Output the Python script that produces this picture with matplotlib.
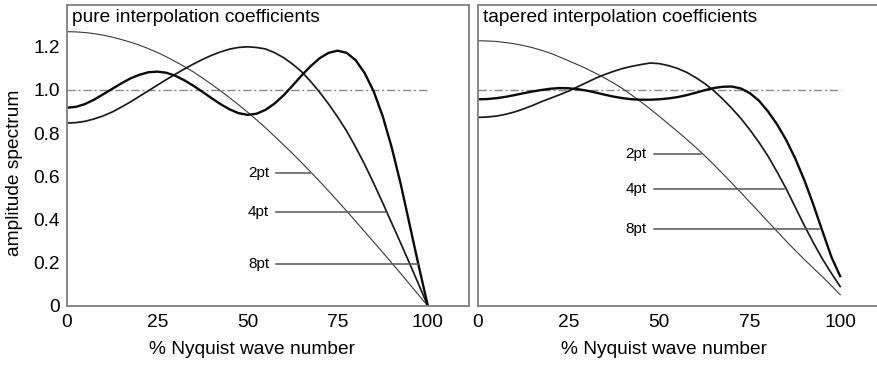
import numpy as np
import matplotlib.pyplot as plt

plt.rcParams["font.family"] = ["Liberation Sans", "DejaVu Sans"]

# wave number in % of Nyquist
wavenum = np.arange(0, 100.1, 2.5)

# pure interpolation coefficients
pure_2pt = [1.270, 1.269, 1.266, 1.261, 1.254, 1.245, 1.234, 1.222, 1.208, 1.192,
            1.174, 1.154, 1.132, 1.109, 1.084, 1.056, 1.027, 0.997, 0.965, 0.932,
            0.898, 0.862, 0.825, 0.786, 0.746, 0.706, 0.664, 0.621, 0.577, 0.532,
            0.486, 0.440, 0.392, 0.344, 0.296, 0.248, 0.199, 0.150, 0.100, 0.050, 0.0]
pure_4pt = [0.847, 0.849, 0.855, 0.866, 0.880, 0.898, 0.920, 0.944, 0.970, 0.996,
            1.022, 1.048, 1.073, 1.097, 1.120, 1.141, 1.160, 1.176, 1.189, 1.197,
            1.200, 1.197, 1.190, 1.173, 1.150, 1.120, 1.085, 1.040, 0.990, 0.935,
            0.875, 0.810, 0.735, 0.655, 0.568, 0.477, 0.383, 0.290, 0.195, 0.098, 0.0]
pure_8pt = [0.918, 0.922, 0.935, 0.955, 0.980, 1.005, 1.030, 1.053, 1.070, 1.082,
            1.085, 1.080, 1.066, 1.045, 1.020, 0.992, 0.963, 0.935, 0.911, 0.893,
            0.885, 0.890, 0.908, 0.937, 0.975, 1.020, 1.067, 1.110, 1.147, 1.172,
            1.182, 1.172, 1.138, 1.078, 0.993, 0.878, 0.733, 0.563, 0.373, 0.183, 0.0]

# tapered interpolation coefficients
taper_2pt = [1.228, 1.227, 1.225, 1.220, 1.214, 1.206, 1.196, 1.184, 1.170, 1.153,
             1.135, 1.117, 1.098, 1.077, 1.055, 1.031, 1.005, 0.975, 0.944, 0.912,
             0.878, 0.843, 0.808, 0.772, 0.735, 0.696, 0.655, 0.612, 0.569, 0.525,
             0.480, 0.435, 0.390, 0.345, 0.300, 0.257, 0.215, 0.175, 0.135, 0.093, 0.050]
taper_4pt = [0.873, 0.875, 0.879, 0.887, 0.898, 0.912, 0.928, 0.946, 0.962, 0.978,
             0.995, 1.015, 1.035, 1.055, 1.072, 1.087, 1.100, 1.110, 1.118, 1.125,
             1.122, 1.113, 1.100, 1.082, 1.058, 1.030, 0.997, 0.958, 0.915, 0.868,
             0.815, 0.757, 0.693, 0.620, 0.542, 0.457, 0.372, 0.292, 0.217, 0.150, 0.087]
taper_8pt = [0.957, 0.958, 0.962, 0.968, 0.976, 0.985, 0.993, 1.000, 1.006, 1.009,
             1.008, 1.004, 0.997, 0.988, 0.978, 0.969, 0.962, 0.957, 0.955, 0.955,
             0.957, 0.961, 0.967, 0.976, 0.987, 0.999, 1.009, 1.015, 1.016, 1.007,
             0.985, 0.950, 0.900, 0.840, 0.768, 0.682, 0.582, 0.468, 0.345, 0.225, 0.133]

point_labels = ["2pt", "4pt", "8pt"]
pure_label_y = [0.617, 0.435, 0.193]
pure_label_end = [67.3, 88.6, 97.3]
taper_label_y = [0.704, 0.543, 0.358]
taper_label_end = [61.5, 84.3, 94.0]

titles = ["pure interpolation coefficients", "tapered interpolation coefficients"]
xticks = [0, 25, 50, 75, 100]
yticks = [0, 0.2, 0.4, 0.6, 0.8, 1.0, 1.2]
ytick_labels = ["0", "0.2", "0.4", "0.6", "0.8", "1.0", "1.2"]

W, H = 878, 365
fig = plt.figure(figsize=(W / 100, H / 100), dpi=100)
ax_l = fig.add_axes([67 / W, 59 / H, 402 / W, 301 / H])
ax_r = fig.add_axes([478 / W, 59 / H, 404 / W, 301 / H])

panels = [
    (ax_l, titles[0], [pure_2pt, pure_4pt, pure_8pt], pure_label_y, pure_label_end, 56.0),
    (ax_r, titles[1], [taper_2pt, taper_4pt, taper_8pt], taper_label_y, taper_label_end, 46.4),
]
widths = [0.8, 1.25, 1.7]
colors = ["#3a3a3a", "#1a1a1a", "#0a0a0a"]

for ax, title, curves, lab_y, lab_end, lab_x in panels:
    ax.set_xlim(0, 111.4)
    ax.set_ylim(0, 1.3935)
    for sp in ax.spines.values():
        sp.set_color("#808080")
        sp.set_linewidth(1.3)

    ax.plot([0, 100], [1.0, 1.0], color="#8a8a8a", lw=1.0,
            linestyle=(0, (6, 2, 1.5, 2)))
    for ys, lw, c in zip(curves, widths, colors):
        ax.plot(wavenum, ys, color=c, lw=lw, solid_capstyle="butt",
                solid_joinstyle="round")

    for name, ly, lx_end in zip(point_labels, lab_y, lab_end):
        ax.plot([lab_x + 2.0, lx_end], [ly, ly], color="#555555", lw=1.1)
        ax.text(lab_x, ly, name, ha="right", va="center", fontsize=11)

    ax.text(5 / 402, 1 - 12 / 301, title, transform=ax.transAxes,
            ha="left", va="center", fontsize=13.8)
    ax.text(51.2, -44 / 301, "% Nyquist wave number",
            transform=ax.get_xaxis_transform(), ha="center", va="center",
            fontsize=13.8)

    ax.set_xticks(xticks)
    ax.set_xticklabels([str(t) for t in xticks])
    ax.tick_params(axis="both", length=0, labelsize=13.8)
    ax.tick_params(axis="x", pad=6)

ax_l.set_yticks(yticks)
ax_l.set_yticklabels(ytick_labels)
ax_l.tick_params(axis="y", pad=5)
ax_r.set_yticks([])

fig.text(15 / W, 1 - 172.5 / H, "amplitude spectrum", rotation=90,
         ha="center", va="center", fontsize=13.8)

fig.savefig("out.png", dpi=100)
